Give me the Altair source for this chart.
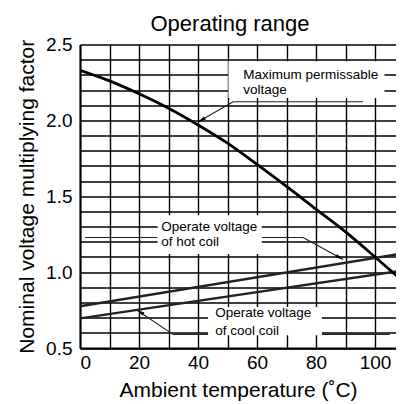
import altair as alt
import pandas as pd

# ---- data ----
temp = [0, 10, 20, 30, 40, 50, 60, 70, 80, 90, 100, 110]
max_volt = [2.33, 2.26, 2.175, 2.08, 1.97, 1.85, 1.71, 1.565, 1.415, 1.265, 1.10, 0.93]
hot_x = [0, 110]
hot_y = [0.775, 1.125]
cool_x = [0, 110]
cool_y = [0.695, 1.012]

x_ticks = list(range(0, 111, 10))
y_ticks = [round(0.5 + 0.1 * i, 1) for i in range(21)]

# annotation boxes (x, x2, y, y2)
box_x = [50.3, 26.3, 43.4]
box_x2 = [103.2, 61.6, 82.0]
box_y = [2.147, 1.12, 0.584]
box_y2 = [2.39, 1.375, 0.771]

label_text = ["Maximum permissable", "voltage", "Operate voltage", "of hot coil",
              "Operate voltage", "of cool coil"]
label_x = [55.3, 55.3, 27.5, 27.5, 45.8, 45.8]
label_y = [2.3, 2.2, 1.3, 1.2, 0.73, 0.615]

# leader segments
seg_x = [51.9, 51.9, 1.7, 61.6, 75.6, 31.5, 31.5]
seg_x2 = [95.9, 40.0, 26.3, 75.6, 89.2, 105.0, 19.2]
seg_y = [2.123, 2.123, 1.228, 1.228, 1.228, 0.59, 0.59]
seg_y2 = [2.123, 1.989, 1.228, 1.228, 1.083, 0.59, 0.75]

arrow_x = [40.0, 89.2, 19.2]
arrow_y = [1.989, 1.083, 0.75]
arrow_angle = [240, 118, 300]

FONT = "Liberation Sans"

xscale = alt.Scale(domain=[0, 107.1], nice=False, zero=False)
yscale = alt.Scale(domain=[0.5, 2.5], nice=False, zero=False)

xaxis = alt.Axis(
    values=x_ticks,
    labelExpr="datum.value % 20 == 0 ? datum.label : ''",
    title="Ambient temperature (˚C)",
    titleBaseline="alphabetic",
    titleY=48,
    labelPadding=5.5,
    ticks=False,
    tickSize=0,
)
yaxis = alt.Axis(
    values=y_ticks,
    labelExpr="abs(datum.value*2 - round(datum.value*2)) < 0.001 ? format(datum.value, '.1f') : ''",
    title="Nominal voltage multiplying factor",
    titleBaseline="alphabetic",
    titleX=-47,
    labelPadding=8,
    ticks=False,
    tickSize=0,
)


def X(field="x"):
    return alt.X(f"{field}:Q", scale=xscale, axis=xaxis)


def Y(field="y"):
    return alt.Y(f"{field}:Q", scale=yscale, axis=yaxis)


max_df = pd.DataFrame({"x": temp, "y": max_volt})
hot_df = pd.DataFrame({"x": hot_x, "y": hot_y})
cool_df = pd.DataFrame({"x": cool_x, "y": cool_y})
box_df = pd.DataFrame({"x": box_x, "x2": box_x2, "y": box_y, "y2": box_y2})
lab_df = pd.DataFrame({"x": label_x, "y": label_y, "t": label_text})
seg_df = pd.DataFrame({"x": seg_x, "x2": seg_x2, "y": seg_y, "y2": seg_y2})
arr_df = pd.DataFrame({"x": arrow_x, "y": arrow_y, "a": arrow_angle})

segs = alt.Chart(seg_df).mark_rule(color="#222222", strokeWidth=1.1).encode(
    x=X(), x2="x2:Q", y=Y(), y2="y2:Q"
)
boxes = alt.Chart(box_df).mark_rect(fill="white", opacity=1).encode(
    x=X(), x2="x2:Q", y=Y(), y2="y2:Q"
)
labels = alt.Chart(lab_df).mark_text(
    align="left", baseline="middle", font=FONT, fontSize=13.5, color="black"
).encode(x=X(), y=Y(), text="t:N")
max_line = alt.Chart(max_df).mark_line(
    color="black", strokeWidth=2.8, interpolate="monotone", clip=True
).encode(x=X(), y=Y())
hot_line = alt.Chart(hot_df).mark_line(color="#222222", strokeWidth=2.4, clip=True).encode(
    x=X(), y=Y()
)
cool_line = alt.Chart(cool_df).mark_line(color="#222222", strokeWidth=2.4, clip=True).encode(
    x=X(), y=Y()
)
arrows = alt.Chart(arr_df).mark_point(
    shape="M0,0L-0.45,2L0.45,2Z", filled=True, color="black", opacity=1, size=64
).encode(x=X(), y=Y(), angle=alt.Angle("a:Q", scale=None))

chart = (
    alt.layer(segs, boxes, labels, hot_line, cool_line, max_line, arrows)
    .properties(
        width=316,
        height=303.5,
        autosize=alt.AutoSizeParams(type="none"),
        padding={"left": 72, "top": 36.5, "right": 0, "bottom": 56},
        title=alt.TitleParams(
            "Operating range",
            font=FONT,
            fontSize=22,
            fontWeight="normal",
            color="black",
            frame="group",
            anchor="middle",
            baseline="alphabetic",
            offset=-17,
            dx=-8,
        ),
    )
    .configure_view(strokeWidth=0)
    .configure_axis(
        grid=True,
        gridColor="black",
        gridWidth=1.4,
        gridOpacity=1,
        domainColor="black",
        domainWidth=2,
        labelFont=FONT,
        labelFontSize=19,
        labelColor="black",
        titleFont=FONT,
        titleFontSize=21,
        titleFontWeight="normal",
        titleColor="black",
    )
)

chart.save("out.html", embed_options={"renderer": "svg", "actions": False})
